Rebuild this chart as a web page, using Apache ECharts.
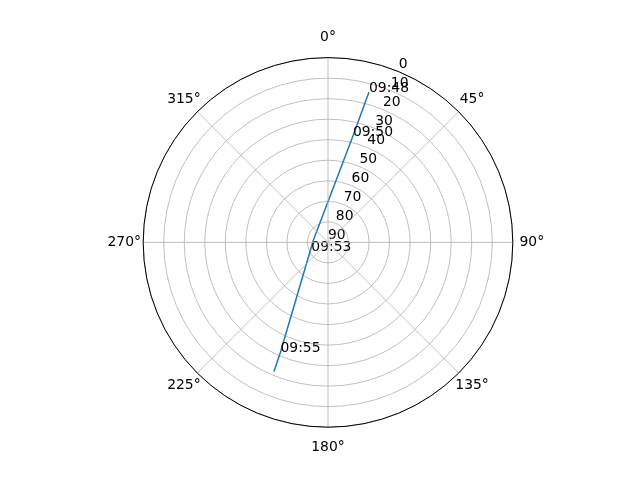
<!DOCTYPE html>
<html>
<head>
<meta charset="utf-8">
<script src="https://cdn.jsdelivr.net/npm/echarts@6/dist/echarts.min.js"></script>
<style>html,body{margin:0;padding:0;background:#fff}#c{width:640px;height:480px}</style>
</head>
<body>
<div id="c"></div>
<script>
// Satellite track: azimuth (deg, clockwise from north) and elevation (deg)
const trackAz = [15.25, 13.2, 279.4, 243.2, 203.4, 202.7];
const trackEl = [14.1, 36.8, 82.8, 80.2, 31.7, 21.8];
// Time annotations
const labelTimes = ['09:48', '09:50', '09:53', '09:55'];
const labelAz = [15.25, 13.2, 240.9, 203.4];
const labelEl = [14.1, 36.8, 80.7, 31.7];
// Axis ticks
const angleTicks = [0, 45, 90, 135, 180, 225, 270, 315];
const radiusTicks = [0, 10, 20, 30, 40, 50, 60, 70, 80, 90];

const FONT = 'DejaVu Sans';
const FS = 13.9;
const center = ['51.25%', '50.5%'];
const R = 184.8;

function tok(w, lh) {
  return {fontFamily: FONT, fontSize: FS, color: '#000', width: w, height: lh, lineHeight: lh, align: 'center'};
}

const chart = echarts.init(document.getElementById('c'), null, {renderer: 'canvas'});
const option = {
  backgroundColor: '#fff',
  animation: false,
  polar: [
    {center: center, radius: R},
    {center: center, radius: R}
  ],
  angleAxis: [
    {
      polarIndex: 0, type: 'value', min: 0, max: 360, interval: 45,
      startAngle: 90, clockwise: true, z: 5,
      axisLine: {show: true, lineStyle: {color: '#000', width: 1}},
      axisTick: {show: false},
      splitLine: {show: true, lineStyle: {color: '#b0b0b0', width: 0.8}},
      axisLabel: {
        margin: 2, color: '#000', fontFamily: FONT, fontSize: FS,
        formatter: function (v) {
          if (angleTicks.indexOf(v) < 0) return '';
          if (v === 0 || v === 180) return '{v|' + v + '°}';
          if (v === 90 || v === 270) return '{h|' + v + '°}';
          return '{d|' + v + '°}';
        },
        rich: {
          v: tok(40, 37),
          h: tok(34, 16),
          d: tok(24, 22)
        }
      }
    },
    {
      polarIndex: 1, type: 'value', min: 0, max: 360, startAngle: 67.5,
      clockwise: true, show: false
    }
  ],
  radiusAxis: [
    {
      polarIndex: 0, type: 'value', min: 0, max: 90, interval: 10, inverse: true,
      axisLine: {show: false}, axisTick: {show: false}, axisLabel: {show: false},
      splitLine: {show: true, lineStyle: {color: '#b0b0b0', width: 0.8}}
    },
    {
      polarIndex: 1, type: 'value', min: 0, max: 90, interval: 10, inverse: true,
      axisLine: {show: false}, axisTick: {show: false}, splitLine: {show: false},
      axisLabel: {
        show: true, margin: 0, rotate: 0, align: 'left', verticalAlign: 'bottom',
        color: '#000', fontFamily: FONT, fontSize: FS,
        formatter: function (v) { return radiusTicks.indexOf(v) >= 0 ? String(v) : ''; }
      }
    }
  ],
  series: [
    {
      type: 'line', coordinateSystem: 'polar', polarIndex: 0,
      data: trackEl.map((e, i) => [e, trackAz[i]]),
      symbol: 'none', smooth: false, z: 3,
      lineStyle: {color: '#1f77b4', width: 1.5}
    },
    {
      type: 'scatter', coordinateSystem: 'polar', polarIndex: 0,
      data: labelEl.map((e, i) => [e, labelAz[i]]),
      symbolSize: 1, itemStyle: {color: 'rgba(0,0,0,0)'}, z: 4,
      label: {
        show: true, position: 'inside', align: 'left', verticalAlign: 'bottom',
        offset: [0, 3], color: '#000', opacity: 1, textBorderWidth: 0,
        textBorderColor: 'transparent', fontFamily: FONT, fontSize: FS,
        formatter: function (p) { return labelTimes[p.dataIndex]; }
      }
    }
  ]
};
chart.setOption(option);
</script>
</body>
</html>
